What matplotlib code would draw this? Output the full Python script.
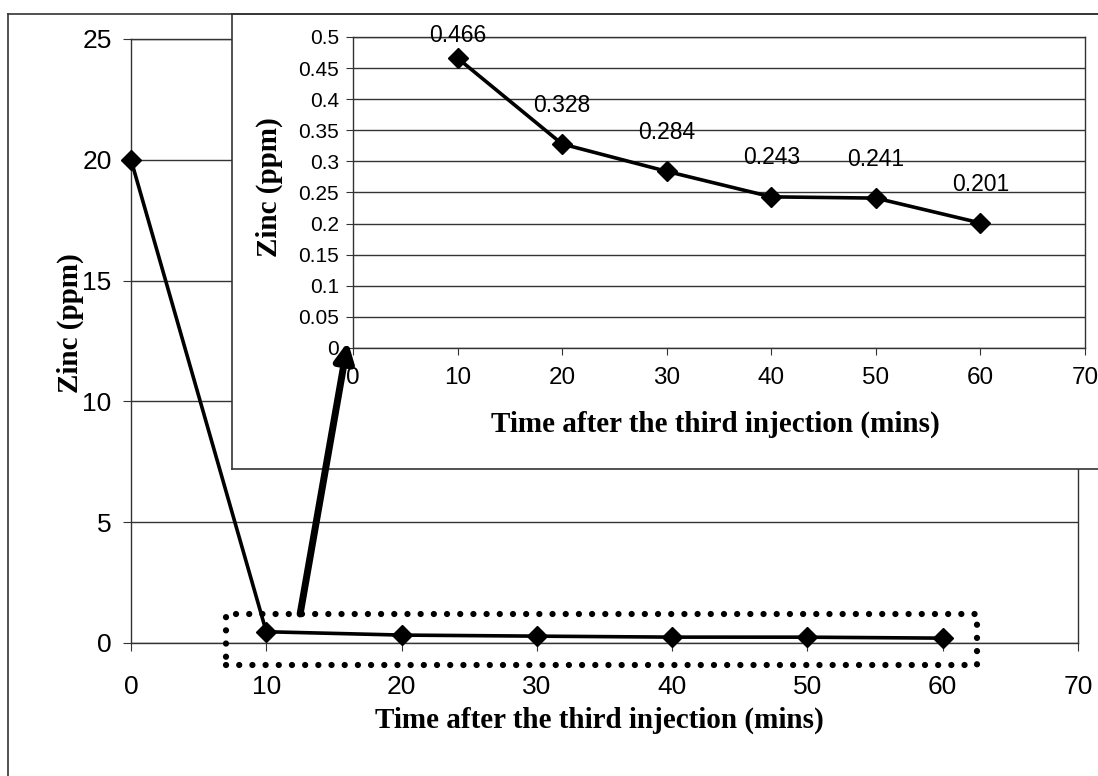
import matplotlib
matplotlib.use("Agg")
import matplotlib.pyplot as plt
from matplotlib.patches import Rectangle
from matplotlib.lines import Line2D

# data
time_all = [0, 10, 20, 30, 40, 50, 60]
zinc_all = [20, 0.466, 0.328, 0.284, 0.243, 0.241, 0.201]
time_inset = [10, 20, 30, 40, 50, 60]
zinc_inset = [0.466, 0.328, 0.284, 0.243, 0.241, 0.201]
inset_labels = ["0.466", "0.328", "0.284", "0.243", "0.241", "0.201"]
main_yticks = [0, 5, 10, 15, 20, 25]
inset_yticks = [0, 0.05, 0.1, 0.15, 0.2, 0.25, 0.3, 0.35, 0.4, 0.45, 0.5]
inset_ytick_labels = ["0", "0.05", "0.1", "0.15", "0.2", "0.25", "0.3",
                      "0.35", "0.4", "0.45", "0.5"]
xticks = [0, 10, 20, 30, 40, 50, 60, 70]

W, H = 1098, 776
sans = "Liberation Sans"
serif = "Liberation Serif"

fig = plt.figure(figsize=(W / 100, H / 100), dpi=100)
fig.patch.set_facecolor("white")

# outer frame (left and top edges only visible)
fig.add_artist(Line2D([8 / W, 8 / W], [0, 1 - 14 / H], color="#333333", lw=1.2))
fig.add_artist(Line2D([8 / W, 1], [1 - 14 / H, 1 - 14 / H], color="#333333", lw=1.2))

# ---- main chart ----
ax = fig.add_axes([131 / W, 1 - 643 / H, (1078 - 131) / W, (643 - 39) / H])
ax.plot(time_all, zinc_all, color="black", lw=2.6, marker="D", ms=10.5,
        zorder=3, clip_on=False)
ax.set_xlim(0, 70)
ax.set_ylim(0, 25)
ax.set_xticks(xticks)
ax.set_yticks(main_yticks)
ax.yaxis.grid(True, color="#333333", lw=1)
ax.set_axisbelow(True)
for s in ax.spines.values():
    s.set_color("#333333")
    s.set_linewidth(1)
ax.tick_params(axis="y", labelsize=19, length=6, color="#333333", pad=8)
ax.tick_params(axis="x", labelsize=19, length=6, color="#333333", pad=17)
for lbl in ax.get_xticklabels() + ax.get_yticklabels():
    lbl.set_fontfamily(sans)
ax.set_xlabel("Time after the third injection (mins)", fontsize=21,
              fontweight="bold", fontfamily=serif)
ax.xaxis.set_label_coords(0.495, -0.106)
ax.set_ylabel("Zinc (ppm)", fontsize=21, fontweight="bold", fontfamily=serif)
ax.yaxis.set_label_coords(-0.05, 0.53)

# dotted highlight box
box = Rectangle((7.0, -0.9), 55.5, 2.1, fill=False, ec="black", lw=4.5,
                ls=(0, (0.01, 2.1)), capstyle="round", clip_on=False, zorder=4)
ax.add_patch(box)

# ---- inset panel ----
panel = fig.add_axes([232 / W, 1 - 469 / H, 1.0, (469 - 14) / H])
panel.set_xticks([])
panel.set_yticks([])
panel.set_facecolor("white")
for s in panel.spines.values():
    s.set_color("#333333")
    s.set_linewidth(1.2)

ax_in = fig.add_axes([353 / W, 1 - 348 / H, (1085 - 353) / W, (348 - 37) / H])
ax_in.plot(time_inset, zinc_inset, color="black", lw=2.6, marker="D", ms=10,
           zorder=3, clip_on=False)
ax_in.set_xlim(0, 70)
ax_in.set_ylim(0, 0.5)
ax_in.set_xticks(xticks)
ax_in.set_yticks(inset_yticks)
ax_in.set_yticklabels(inset_ytick_labels)
ax_in.yaxis.grid(True, color="#333333", lw=1)
ax_in.set_axisbelow(True)
for s in ax_in.spines.values():
    s.set_color("#333333")
    s.set_linewidth(1)
ax_in.tick_params(axis="y", labelsize=15, length=5, color="#333333", pad=5)
ax_in.tick_params(axis="x", labelsize=17.5, length=5, color="#333333", pad=9)
for lbl in ax_in.get_xticklabels() + ax_in.get_yticklabels():
    lbl.set_fontfamily(sans)
ax_in.set_xlabel("Time after the third injection (mins)", fontsize=21,
                 fontweight="bold", fontfamily=serif)
ax_in.xaxis.set_label_coords(0.495, -0.2)
ax_in.set_ylabel("Zinc (ppm)", fontsize=21, fontweight="bold", fontfamily=serif)
ax_in.yaxis.set_label_coords(-0.096, 0.518)

for i, (x, y, t) in enumerate(zip(time_inset, zinc_inset, inset_labels)):
    off = 16 if i == 0 else 28
    ax_in.annotate(t, (x, y), xytext=(0, off), textcoords="offset points",
                   ha="center", va="center", fontsize=16.5, fontfamily=sans)

# arrow from highlight box to the inset origin
fig.add_artist(plt.Annotation(
    "", xy=(-0.007, 0.02), xycoords=ax_in.transAxes,
    xytext=(12.5, 1.2), textcoords=ax.transData,
    arrowprops=dict(arrowstyle="-|>", lw=5, color="black",
                    mutation_scale=28, shrinkA=0, shrinkB=0)))

fig.savefig("out.png", dpi=100)
